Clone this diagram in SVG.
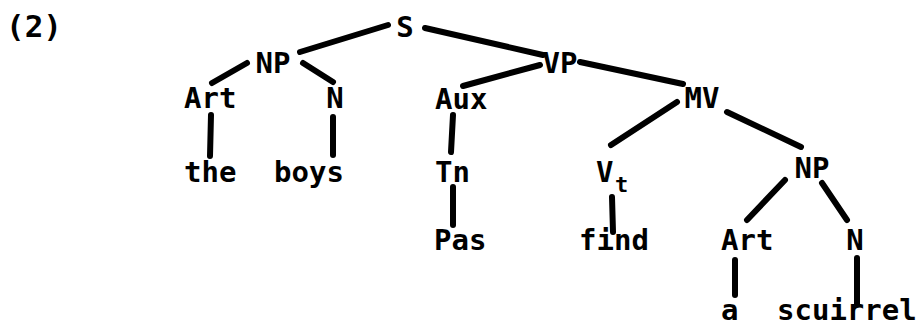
<svg xmlns="http://www.w3.org/2000/svg" width="922" height="327" viewBox="0 0 922 327">
<style>
  .t { font-family: "DejaVu Sans Mono", "Liberation Mono", monospace; font-weight: bold; font-size: 29px; fill: #000; }
  .s { font-size: 22px; }
  .e { stroke: #000; stroke-width: 6; stroke-linecap: round; fill: none; }
</style>
<rect width="922" height="327" fill="#fff"/>
<text id="label" class="t" x="6" y="37" style="font-size:31px">(2)</text>
<g id="edges" class="e">
  <line x1="388" y1="25" x2="300" y2="52"/>
  <line x1="425" y1="28" x2="543" y2="55"/>
  <line x1="247" y1="63" x2="212" y2="83"/>
  <line x1="303" y1="63" x2="333" y2="82"/>
  <line x1="211" y1="115" x2="210" y2="156"/>
  <line x1="333" y1="117" x2="333" y2="155"/>
  <line x1="540" y1="65" x2="463" y2="86"/>
  <line x1="453" y1="115" x2="451" y2="152"/>
  <line x1="580" y1="62" x2="683" y2="84"/>
  <line x1="677" y1="102" x2="611" y2="145"/>
  <line x1="727" y1="112" x2="801" y2="147"/>
  <line x1="453" y1="187" x2="453" y2="225"/>
  <line x1="612" y1="197" x2="613" y2="232"/>
  <line x1="785" y1="180" x2="747" y2="220"/>
  <line x1="822" y1="183" x2="847" y2="220"/>
  <line x1="735" y1="260" x2="735" y2="295"/>
  <line x1="857" y1="258" x2="857" y2="304"/>
</g>
<g id="S"><text class="t" x="405" y="37" text-anchor="middle">S</text></g>
<g id="NP1"><text class="t" x="273" y="73" text-anchor="middle">NP</text></g>
<g id="Art1"><text class="t" x="184" y="108">Art</text></g>
<g id="N1"><text class="t" x="335" y="108" text-anchor="middle">N</text></g>
<g id="the"><text class="t" x="184" y="182">the</text></g>
<g id="boys"><text class="t" x="274" y="182">boys</text></g>
<g id="VP"><text class="t" x="560" y="73" text-anchor="middle">VP</text></g>
<g id="Aux"><text class="t" x="435" y="109">Aux</text></g>
<g id="Tn"><text class="t" x="435" y="182">Tn</text></g>
<g id="Pas"><text class="t" x="434" y="250">Pas</text></g>
<g id="MV"><text class="t" x="702" y="108" text-anchor="middle">MV</text></g>
<g id="Vt"><text class="t" x="596" y="182">V</text><text class="t s" x="615" y="192">t</text></g>
<g id="find"><text class="t" x="579" y="250">find</text></g>
<g id="NP2"><text class="t" x="812" y="178" text-anchor="middle">NP</text></g>
<g id="Art2"><text class="t" x="721" y="250">Art</text></g>
<g id="N2"><text class="t" x="855" y="250" text-anchor="middle">N</text></g>
<g id="a"><text class="t" x="721" y="320">a</text></g>
<g id="scuirrel"><text class="t" x="777" y="320">scuirrel</text></g>
</svg>
